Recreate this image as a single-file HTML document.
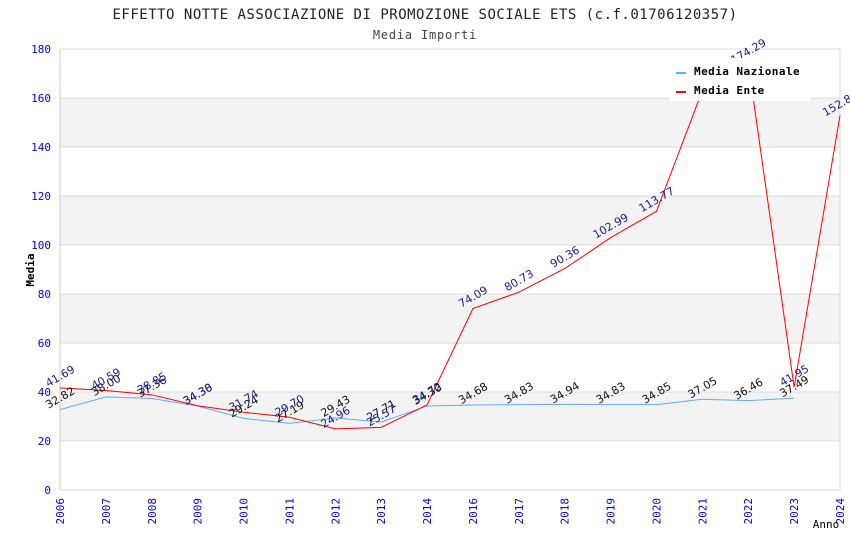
<!DOCTYPE html>
<html><head><meta charset="utf-8"><style>
body{margin:0;background:#fff;width:850px;height:550px;overflow:hidden}
svg text{font-family:"DejaVu Sans Mono","Liberation Mono",monospace}
</style></head><body>
<svg id="chart" width="850" height="550">
<text x="425" y="19" text-anchor="middle" font-size="14" letter-spacing="0.5" fill="#222">EFFETTO NOTTE ASSOCIAZIONE DI PROMOZIONE SOCIALE ETS (c.f.01706120357)</text>
<text x="425" y="39" text-anchor="middle" font-size="12" letter-spacing="0.8" fill="#444">Media Importi</text>
<g id="bands"></g><g id="grid"></g><g id="axes"></g><g id="series"></g><g id="labels"></g>
<text x="34" y="270" transform="rotate(-90 34 270)" text-anchor="middle" font-size="11" font-weight="bold" fill="#000">Media</text>
<text x="826" y="528" text-anchor="middle" font-size="11" fill="#000">Anno</text>
<g>
<rect x="670" y="58" width="140" height="43" fill="#fff"/>
<line x1="676" y1="73" x2="686" y2="73" stroke="#66aaff" stroke-width="2"/>
<text x="694" y="75" font-size="11" letter-spacing="0.45" font-weight="bold" fill="#000">Media Nazionale</text>
<line x1="676" y1="92" x2="686" y2="92" stroke="#ff0000" stroke-width="2"/>
<text x="694" y="94" font-size="11" letter-spacing="0.45" font-weight="bold" fill="#000">Media Ente</text>
</g>
</svg>
<script>
const categories=["2006","2007","2008","2009","2010","2011","2012","2013","2014","2016","2017","2018","2019","2020","2021","2022","2023","2024"];
const nazionale=[32.82,38.00,37.36,34.30,29.24,27.19,29.43,27.71,34.30,34.68,34.83,34.94,34.83,34.85,37.05,36.46,37.49,null];
const ente=[41.69,40.59,38.85,34.38,31.74,29.70,24.96,25.57,34.72,74.09,80.73,90.36,102.99,113.77,163.0,174.29,41.95,152.89];
const yTicks=[0,20,40,60,80,100,120,140,160,180];
const NS="http://www.w3.org/2000/svg";
const L=60,R=840,T=49,B=490,YMAX=180;
const x=i=>L+i*(R-L)/(categories.length-1);
const y=v=>B-v*(B-T)/YMAX;
function mk(tag,attrs,parent){const e=document.createElementNS(NS,tag);for(const k in attrs)e.setAttribute(k,attrs[k]);document.getElementById(parent).appendChild(e);return e;}
for(let i=0;i<yTicks.length-1;i++){if(i%2===1){const r=mk('rect',{x:L,y:y(yTicks[i+1]),width:R-L,height:y(yTicks[i])-y(yTicks[i+1]),fill:'#f3f3f3'},'bands');

}}
yTicks.forEach(v=>{const g=mk('line',{x1:L,x2:R,y1:y(v),y2:y(v),stroke:'#dcdcdc'},'grid');


const t=mk('text',{x:L-9,y:y(v)+4,'text-anchor':'end','font-size':11,fill:'#0000ee'},'axes');t.textContent=v;

});
mk('line',{x1:L,x2:L,y1:T,y2:B,stroke:'#ccc'},'axes');
mk('line',{x1:R,x2:R,y1:T,y2:B,stroke:'#ddd'},'axes');
categories.forEach((c,i)=>{const t=mk('text',{x:x(i)+4,y:B+8,'text-anchor':'end','font-size':11,fill:'#0000ee',transform:`rotate(-90 ${x(i)+4} ${B+8})`},'axes');t.textContent=c;

});
function series(data,color,name,lblColor){const pts=[];data.forEach((v,i)=>{if(v!==null)pts.push(x(i)+','+y(v));});
const p=mk('polyline',{points:pts.join(' '),fill:'none',stroke:color,'stroke-width':1},'series');


data.forEach((v,i)=>{if(v===null)return;const px=x(i),py=y(v)-12;const t=mk('text',{x:px,y:py+4,'text-anchor':'middle','font-size':11,fill:lblColor,transform:`rotate(-30 ${px} ${py})`,style:'font-family:"DejaVu Sans","Liberation Sans",sans-serif'},'labels');t.textContent=v.toFixed(2);

});}
series(nazionale,'#66aaff','line-media-nazionale','#111');
series(ente,'#ff0000','line-media-ente','#1a1a99');
</script>
</body></html>
